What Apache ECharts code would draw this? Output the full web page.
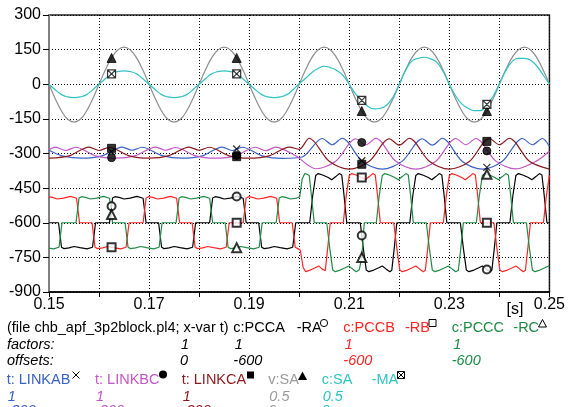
<!DOCTYPE html>
<html><head><meta charset="utf-8">
<script src="https://cdn.jsdelivr.net/npm/echarts/dist/echarts.min.js"></script>
<style>html,body{margin:0;padding:0;background:#fff}#chart{width:568px;height:407px}</style>
</head><body><div id="chart"></div>
<script>
// Time in ms, raw signal values (before factor / offset).
const pcca = [
[150.0,0],[151.9,0],[152.5,-106],[153.0,-112],[154.0,-109],[155.0,-103],[156.2,-108],[157.6,-113],[158.7,-106],[159.3,0],
[162.1,0],[162.7,107],[163.2,113],[164.0,110],[165.0,103],[166.2,107],[167.6,114],[168.8,106],[169.4,0],
[171.9,0],[172.5,-106],[173.0,-112],[174.0,-109],[175.0,-103],[176.2,-108],[177.6,-113],[178.7,-106],[179.3,0],
[182.1,0],[182.7,107],[183.2,113],[184.0,110],[185.0,103],[186.2,107],[187.6,114],[188.8,106],[189.4,0],
[191.9,0],[192.5,-106],[193.0,-112],[194.0,-109],[195.0,-103],[196.2,-108],[197.6,-113],[198.7,-106],[199.3,0],
[202.1,0],[202.7,118],[203.3,205],[203.8,213],[204.8,206],[205.8,196],[206.5,186],[207.3,200],[208.0,213],[208.5,207],[209.0,110],[209.5,0],
[212.2,0],[212.8,-110],[213.4,-205],[213.9,-212],[214.9,-205],[215.9,-195],[216.6,-187],[217.4,-201],[218.1,-212],[218.5,-206],[219.0,-108],[219.5,0],
[222.1,0],[222.7,118],[223.3,205],[223.8,213],[224.8,206],[225.8,196],[226.5,186],[227.3,200],[228.0,213],[228.5,207],[229.0,110],[229.5,0],
[232.2,0],[232.8,-110],[233.4,-205],[233.9,-212],[234.9,-205],[235.9,-195],[236.6,-187],[237.4,-201],[238.1,-212],[238.5,-206],[239.0,-108],[239.5,0],
[242.1,0],[242.7,118],[243.3,205],[243.8,213],[244.8,206],[245.8,196],[246.5,186],[247.3,200],[248.0,213],[248.5,207],[249.0,110],[249.5,0],
[250.0,0]
];
const pccb = [
[150.0,112],[150.7,110],[151.7,103],[152.9,107],[154.3,114],[155.5,106],[156.1,0],
[158.6,0],[159.2,-106],[159.7,-112],[160.7,-109],[161.7,-103],[162.9,-108],[164.3,-113],[165.4,-106],[166.0,0],
[168.8,0],[169.4,107],[169.9,113],[170.7,110],[171.7,103],[172.9,107],[174.3,114],[175.5,106],[176.1,0],
[178.6,0],[179.2,-106],[179.7,-112],[180.7,-109],[181.7,-103],[182.9,-108],[184.3,-113],[185.4,-106],[186.0,0],
[188.8,0],[189.4,107],[189.9,113],[190.7,110],[191.7,103],[192.9,107],[194.3,114],[195.5,106],[196.1,0],
[198.6,0],[199.2,-106],[199.7,-112],[200.2,-118],[200.8,-195],[201.3,-212],[202.2,-205],[203.2,-195],[203.9,-187],[204.6,-201],[205.2,-208],[205.7,-108],[206.2,0],
[208.8,0],[209.4,118],[210.0,205],[210.5,213],[211.5,206],[212.5,196],[213.2,186],[214.0,200],[214.7,213],[215.2,207],[215.7,110],[216.2,0],
[218.9,0],[219.5,-110],[220.1,-205],[220.6,-212],[221.6,-205],[222.6,-195],[223.3,-187],[224.1,-201],[224.8,-212],[225.2,-206],[225.7,-108],[226.2,0],
[228.8,0],[229.4,118],[230.0,205],[230.5,213],[231.5,206],[232.5,196],[233.2,186],[234.0,200],[234.7,213],[235.2,207],[235.7,110],[236.2,0],
[238.9,0],[239.5,-110],[240.1,-205],[240.6,-212],[241.6,-205],[242.6,-195],[243.3,-187],[244.1,-201],[244.8,-212],[245.2,-206],[245.7,-108],[246.2,0],
[248.8,0],[249.4,118],[250.0,205]
];
const pccc = [
[150.0,-110],[150.9,-113],[152.0,-106],[152.6,0],
[155.4,0],[156.0,107],[156.5,113],[157.3,110],[158.3,103],[159.5,107],[160.9,114],[162.1,106],[162.7,0],
[165.2,0],[165.8,-106],[166.3,-112],[167.3,-109],[168.3,-103],[169.5,-108],[170.9,-113],[172.0,-106],[172.6,0],
[175.4,0],[176.0,107],[176.5,113],[177.3,110],[178.3,103],[179.5,107],[180.9,114],[182.1,106],[182.7,0],
[185.2,0],[185.8,-106],[186.3,-112],[187.3,-109],[188.3,-103],[189.5,-108],[190.9,-113],[192.0,-106],[192.6,0],
[195.4,0],[196.0,107],[196.5,113],[197.3,110],[198.3,103],[199.5,107],[200.1,112],[200.6,190],[201.1,213],[201.6,210],[202.0,205],[202.5,105],[203.0,0],
[205.5,0],[206.1,-110],[206.7,-205],[207.2,-212],[208.2,-205],[209.2,-195],[209.9,-187],[210.7,-201],[211.4,-212],[212.0,-204],[212.5,-150],[213.0,0],
[215.4,0],[216.0,118],[216.6,205],[217.1,213],[218.1,206],[219.1,196],[219.8,186],[220.6,200],[221.3,213],[221.8,207],[222.3,110],[222.8,0],
[225.4,0],[226.0,-110],[226.6,-205],[227.1,-212],[228.1,-205],[229.1,-195],[229.8,-187],[230.6,-201],[231.3,-212],[231.8,-206],[232.3,-108],[232.8,0],
[235.4,0],[236.0,118],[236.6,205],[237.1,213],[238.1,206],[239.1,196],[239.8,186],[240.6,200],[241.3,213],[241.8,207],[242.3,110],[242.8,0],
[245.4,0],[246.0,-110],[246.6,-205],[247.1,-212],[248.1,-205],[249.1,-195],[249.8,-187],[250.0,-190]
];
const linkab = [
[150.0,14],[152.6,-10],[156.6,-20],[160.6,-10],[164.6,28],[166.6,14],[168.6,27],[172.6,-9],[176.6,-20],[180.6,-10],
[184.6,28],[186.6,13],[188.6,27],[192.6,-10],[196.6,-21],[200.6,-15],[204.6,65],[206.6,38],[208.6,66],[212.6,-34],
[216.6,-68],[220.6,-33],[224.6,64],[226.6,36],[228.6,66],[232.6,-35],[236.6,-68],[240.6,-34],[244.6,65],[246.6,38],
[248.6,65],[250.0,30]
];
const linkbc = [
[150.0,16],[151.3,28],[153.3,13],[155.3,27],[159.3,-10],[163.3,-20],[167.3,-9],[171.3,28],[173.3,14],[175.3,26],
[179.3,-10],[183.3,-20],[187.3,-10],[191.3,27],[193.3,12],[195.3,28],[199.3,-10],[203.3,-66],[207.3,-34],[211.3,64],
[213.3,37],[215.3,66],[219.3,-34],[223.3,-68],[227.3,-34],[231.3,65],[233.3,38],[235.3,65],[239.3,-33],[243.3,-67],
[247.3,-34],[250.0,10]
];
const linkca = [
[150.0,-20],[154.0,-10],[158.0,28],[160.0,13],[162.0,27],[166.0,-10],[170.0,-20],[174.0,-9],[178.0,28],[180.0,14],
[182.0,27],[186.0,-10],[190.0,-20],[194.0,-10],[198.0,28],[200.0,18],[202.0,66],[206.0,-34],[210.0,-68],[214.0,-34],
[218.0,64],[220.0,36],[222.0,66],[226.0,-34],[230.0,-68],[234.0,-35],[238.0,65],[240.0,38],[242.0,66],[246.0,-34],
[250.0,-68]
];
// Source voltage / current, sampled every 1.25 ms
const saTimes = [
150,151.25,152.5,153.75,155,156.25,157.5,158.75,160,161.25,162.5,163.75,165,166.25,167.5,168.75,
170,171.25,172.5,173.75,175,176.25,177.5,178.75,180,181.25,182.5,183.75,185,186.25,187.5,188.75,
190,191.25,192.5,193.75,195,196.25,197.5,198.75,200,201.25,202.5,203.75,205,206.25,207.5,208.75,
210,211.25,212.5,213.75,215,216.25,217.5,218.75,220,221.25,222.5,223.75,225,226.25,227.5,228.75,
230,231.25,232.5,233.75,235,236.25,237.5,238.75,240,241.25,242.5,243.75,245,246.25,247.5,248.75,250
];
const vsa = [
0,-125,-232,-303,-328,-303,-232,-125,0,123,228,297,322,297,228,123,
0,-125,-232,-303,-328,-303,-232,-125,0,123,228,297,322,297,228,123,
0,-125,-232,-303,-328,-303,-232,-125,0,123,228,297,322,297,228,123,
0,-125,-232,-303,-328,-303,-232,-125,0,123,228,297,322,297,228,123,
0,-125,-232,-303,-328,-303,-232,-125,0,123,228,297,322,297,228,123,0
];
const csa = [
0,-48,-90,-110,-116,-110,-90,-48,0,48,90,110,116,110,90,48,
0,-48,-90,-110,-116,-110,-90,-48,0,48,90,110,116,110,90,48,
0,-48,-90,-110,-116,-110,-90,-48,4,50,100,136,156,144,120,76,
0,-84,-140,-192,-214,-208,-180,-110,0,120,200,224,234,220,190,110,
0,-100,-170,-208,-228,-228,-174,-104,6,116,194,224,224,208,156,80,0
];

const legendNames = ['c:PCCA', 'c:PCCB', 'c:PCCC', 't: LINKAB', 't: LINKBC', 't: LINKCA', 'v:SA', 'c:SA'];
const legendTags = ['-RA', '-RB', '-RC', '', '', '', '', '-MA'];
const factors = [1, 1, 1, 1, 1, 1, 0.5, 0.5];
const offsets = [-600, -600, -600, -300, -300, -300, 0, 0];
const xFactor = 1, xOffset = 0;
const markerTimes = [162.5, 187.5, 212.5, 237.5];
const yTicks = [300, 150, 0, -150, -300, -450, -600, -750, -900];

const colors = ['#000000', '#ff2424', '#1f8b45', '#3a61c6', '#c257c6', '#8a1a1f', '#8f8f8f', '#2fc3c3'];
const textColors = ['#000000', '#ff2424', '#1f8b45', '#3a61c6', '#c257c6', '#8a1a1f', '#9a9a9a', '#2fc3c3'];

const zip = (ts, vs) => ts.map((t, i) => [t, vs[i]]);
const raw = [pcca, pccb, pccc, linkab, linkbc, linkca, zip(saTimes, vsa), zip(saTimes, csa)];

function valueAt(pts, t) {
  for (let i = 1; i < pts.length; i++) {
    if (pts[i][0] >= t) {
      const [t0, v0] = pts[i - 1], [t1, v1] = pts[i];
      return v0 + (v1 - v0) * (t - t0) / (t1 - t0);
    }
  }
  return pts[pts.length - 1][1];
}

const smoothing = [false, false, false, 0.3, 0.3, 0.3, 0.5, 0.5];
const symbols = [
  ['emptyCircle', 8], ['emptyRect', 8], ['emptyTriangle', 9],
  ['path://M0,0L10,10M10,0L0,10', 7], ['circle', 8], ['rect', 8],
  ['triangle', 9], ['path://M0,0L10,0L10,10L0,10ZM0,0L10,10M10,0L0,10', 8]
];

const series = [];
raw.forEach((pts, i) => {
  series.push({
    type: 'line', silent: true, showSymbol: false, smooth: smoothing[i],
    z: 2 + i * 0.01,
    lineStyle: { color: colors[i], width: 1.2 },
    data: pts.map(([t, v]) => [t / 1000, v * factors[i] + offsets[i]])
  });
});
raw.forEach((pts, i) => {
  const [sym, size] = symbols[i];
  const isPath = sym.startsWith('path://');
  series.push({
    type: 'scatter', silent: true, z: 10, symbol: sym, symbolSize: size,
    itemStyle: isPath
      ? { color: i === 3 ? 'rgba(0,0,0,0)' : '#fff', borderColor: '#000', borderWidth: 1.2 }
      : { color: '#000', borderColor: '#000', borderWidth: 1 },
    data: markerTimes.map(t => [t / 1000, valueAt(pts, t) * factors[i] + offsets[i]])
  });
});

// Caption block under the plot
const FONT = '"Liberation Sans", Arial, sans-serif';
const els = [];
function txt(x, y, s, color, italic) {
  els.push({ type: 'text', x, y, silent: true,
    style: { text: s, fill: color, font: (italic ? 'italic ' : '') + '14.5px ' + FONT, verticalAlign: 'middle' } });
}
const rowY = [327.5, 345, 360.5, 380, 397, 411];
txt(7, rowY[0], '(file chb_apf_3p2block.pl4; x-var t)', '#000', false);
txt(7, rowY[1], 'factors:', '#000', true);
txt(7, rowY[2], 'offsets:', '#000', true);
txt(181, rowY[1], String(xFactor), '#000', true);
txt(180, rowY[2], String(xOffset), '#000', true);
const colX = [233.3, 343.3, 451.7, 6.7, 95, 181.7, 268.3, 321.7];
const tagX = [296.7, 405, 513.3, 0, 0, 0, 0, 371.7];
legendNames.forEach((name, i) => {
  const top = i < 3;
  const r = top ? 0 : 3;
  txt(colX[i], rowY[r], name, textColors[i], false);
  if (legendTags[i]) txt(tagX[i], rowY[r], legendTags[i], textColors[i], false);
  txt(colX[i] + (top ? 1.5 : 1), rowY[r + 1], String(factors[i]), textColors[i], true);
  txt(colX[i], rowY[r + 2], String(offsets[i]), textColors[i], true);
});
// legend marker glyphs
const K = { stroke: '#000', lineWidth: 1 };
els.push({ type: 'circle', silent: true, shape: { cx: 324, cy: 323, r: 3.6 }, style: Object.assign({ fill: '#fff' }, K) });
els.push({ type: 'rect', silent: true, shape: { x: 429, y: 319.5, width: 7, height: 7 }, style: Object.assign({ fill: '#fff' }, K) });
els.push({ type: 'polygon', silent: true, shape: { points: [[538.5, 327], [542.5, 319.5], [546.5, 327]] }, style: Object.assign({ fill: '#fff' }, K) });
els.push({ type: 'polyline', silent: true, shape: { points: [[72.5, 371.5], [79.5, 378.5]] }, style: K });
els.push({ type: 'polyline', silent: true, shape: { points: [[79.5, 371.5], [72.5, 378.5]] }, style: K });
els.push({ type: 'circle', silent: true, shape: { cx: 163, cy: 374.5, r: 4 }, style: { fill: '#000' } });
els.push({ type: 'rect', silent: true, shape: { x: 247, y: 371.5, width: 7, height: 7 }, style: { fill: '#000' } });
els.push({ type: 'polygon', silent: true, shape: { points: [[298, 380], [302.5, 371.5], [307, 380]] }, style: { fill: '#000' } });
els.push({ type: 'rect', silent: true, shape: { x: 397.5, y: 371.5, width: 7, height: 7 }, style: Object.assign({ fill: '#fff' }, K) });
els.push({ type: 'polyline', silent: true, shape: { points: [[397.5, 371.5], [404.5, 378.5]] }, style: K });
els.push({ type: 'polyline', silent: true, shape: { points: [[404.5, 371.5], [397.5, 378.5]] }, style: K });
// time unit
els.push({ type: 'text', x: 506.5, y: 310, silent: true,
  style: { text: '[s]', fill: '#000', font: '16px ' + FONT, verticalAlign: 'middle' } });

const gridLine = { show: true, lineStyle: { color: '#000', type: [1, 2], width: 1 } };
const option = {
  animation: false,
  backgroundColor: '#fff',
  grid: { left: 49, right: 17, top: 15, bottom: 115, show: true, borderColor: '#222', borderWidth: 1.5, backgroundColor: 'rgba(0,0,0,0)' },
  xAxis: {
    type: 'value', min: 0.15, max: 0.25, interval: 0.01,
    axisLine: { onZero: false, lineStyle: { color: '#000', width: 1.5 } },
    axisTick: { show: true, length: 5, lineStyle: { color: '#000', width: 1 } },
    axisLabel: { color: '#000', fontSize: 16, fontFamily: FONT, margin: 5,
      formatter: v => { const k = Math.round(v * 100); return k % 2 === 1 ? (k / 100).toFixed(2) : ''; } },
    splitLine: gridLine
  },
  yAxis: {
    type: 'value', min: yTicks[yTicks.length - 1], max: yTicks[0], interval: 150,
    axisLine: { show: true, onZero: false, lineStyle: { color: '#808080', width: 2 } },
    axisTick: { show: true, length: 6, lineStyle: { color: '#000', width: 1 } },
    axisLabel: { color: '#000', fontSize: 16, fontFamily: FONT, margin: 8 },
    splitLine: gridLine
  },
  series,
  graphic: { elements: els }
};
const chart = echarts.init(document.getElementById('chart'), null, { renderer: 'canvas' });
chart.setOption(option);
</script></body></html>
